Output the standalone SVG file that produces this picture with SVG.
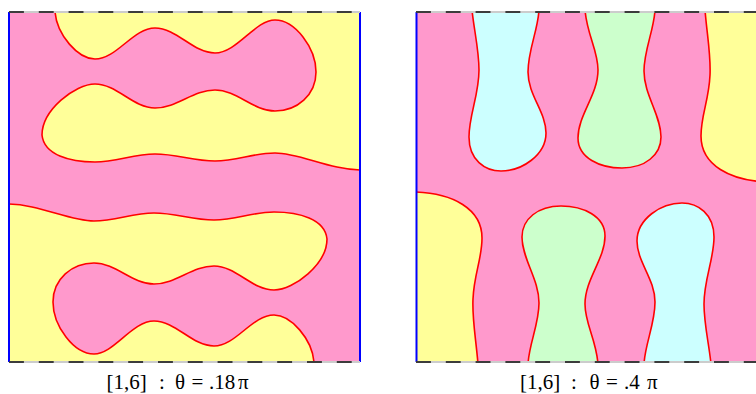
<svg xmlns="http://www.w3.org/2000/svg" width="756" height="394" viewBox="0 0 756 394">
  <style>
    .bg { fill: #FF99CC; }
    .yel { fill: #FFFF99; stroke: #FF0000; stroke-width: 1.6; }
    .cya { fill: #CCFFFF; stroke: #FF0000; stroke-width: 1.6; }
    .grn { fill: #CCFFCC; stroke: #FF0000; stroke-width: 1.6; }
    .side { stroke: #0000FF; stroke-width: 2; fill: none; }
    .dashbase { stroke: #CCCCCC; stroke-width: 2; fill: none; }
    .dash { stroke: #3C3C3C; stroke-width: 2; fill: none; stroke-dasharray: 14.9 14.9; }
    .lbl { font-family: "Liberation Serif", "Times New Roman", serif; font-size: 21px; fill: #000000; }
  </style>
  <defs>
    <clipPath id="clipL"><rect x="9" y="12" width="351" height="350"/></clipPath>
    <clipPath id="clipR"><rect x="416" y="12" width="351" height="350"/></clipPath>
    <path id="leftYellow" d="M55,12 C57,35 78,59 95,59 C117,59 133,28 155,28 C177,28 193,53 215,53 C237,53 255,20 275,20 C295,20 316,48 316,72 C316,95 297,111 275,111 C253,111 237,90 215,90 C193,90 177,108 155,108 C133,108 117,84 95,84 C75,84 42,110 42,135 C44,155 70,162 95,162 C117,162 133,154 155,154 C177,154 193,161 215,161 C237,161 253,153 275,153 C300,153 330,170 362,170 L362,10 Z"/>
    <path id="rightCyan" d="M472,10 C474,30 479,50 479,70 C479,95 469,115 469,137 C469,160 485,171 501,171 C522,171 546,155 546,133 C546,112 528,95 528,72 C528,50 538,30 539,10 Z"/>
    <path id="rightGreen" d="M585,10 C587,35 598,50 598,70 C598,95 578,115 578,138 C578,158 600,168 622,168 C645,168 661,155 661,137 C661,115 644,95 644,71 C644,50 654,30 655,10 Z"/>
    <path id="rightYellow" d="M705,10 C707,35 711,55 710,75 C709,100 701,115 701,136 C701,165 730,181 769,182 L769,10 Z"/>
  </defs>

  <g id="panel-left">
    <g clip-path="url(#clipL)">
      <rect class="bg" x="9" y="12" width="351" height="350"/>
      <use href="#leftYellow" class="yel"/>
      <use href="#leftYellow" class="yel" transform="rotate(180 184.5 187)"/>
    </g>
    <line class="side" x1="9" y1="12" x2="9" y2="362"/>
    <line class="side" x1="360" y1="12" x2="360" y2="362"/>
    <line class="dashbase" x1="9" y1="12" x2="360" y2="12"/>
    <line class="dash" x1="9" y1="12" x2="360" y2="12"/>
    <line class="dashbase" x1="9" y1="362" x2="360" y2="362"/>
    <line class="dash" x1="9" y1="362" x2="360" y2="362"/>
  </g>

  <g id="panel-right">
    <g clip-path="url(#clipR)">
      <rect class="bg" x="416" y="12" width="351" height="350"/>
      <use href="#rightCyan" class="cya"/>
      <use href="#rightGreen" class="grn"/>
      <use href="#rightYellow" class="yel"/>
      <g transform="rotate(180 591.5 187)">
        <use href="#rightCyan" class="cya"/>
        <use href="#rightGreen" class="grn"/>
        <use href="#rightYellow" class="yel"/>
      </g>
    </g>
    <line class="side" x1="416.5" y1="12" x2="416.5" y2="362"/>
    <line class="dashbase" x1="416" y1="12" x2="767" y2="12"/>
    <line class="dash" x1="416" y1="12" x2="767" y2="12"/>
    <line class="dashbase" x1="416" y1="362" x2="767" y2="362"/>
    <line class="dash" x1="416" y1="362" x2="767" y2="362"/>
  </g>

  <g id="labels">
    <text id="label-left" class="lbl" y="389"><tspan x="106.5">[1,6]</tspan><tspan x="159">:</tspan><tspan x="175">θ</tspan><tspan x="191.5">=</tspan><tspan x="209">.18</tspan><tspan x="238">π</tspan></text>
    <text id="label-right" class="lbl" y="389"><tspan x="520">[1,6]</tspan><tspan x="571">:</tspan><tspan x="589.5">θ</tspan><tspan x="606">=</tspan><tspan x="624">.4</tspan><tspan x="647">π</tspan></text>
  </g>
</svg>
